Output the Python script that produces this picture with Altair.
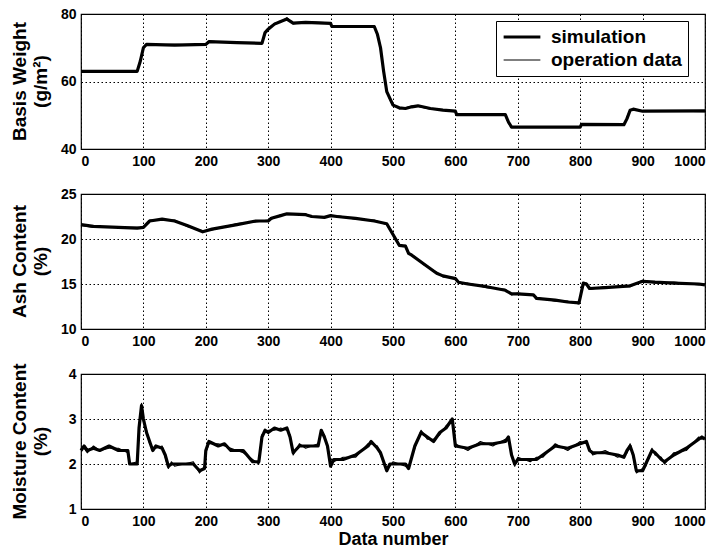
import altair as alt
import pandas as pd

# ---- Basis weight (g/m^2) ----
bw_x = [0, 90, 95, 100, 105, 150, 200, 205, 250, 290, 295, 300, 310, 320, 330,
        340, 360, 400, 402, 470, 475, 480, 485, 490, 495, 500, 510, 520, 530,
        540, 560, 580, 600, 602, 680, 685, 690, 800, 802, 870, 875, 880, 885,
        900, 1000]
bw_sim = [63, 63, 66, 70, 71, 70.8, 71, 71.8, 71.5, 71.3, 74.5, 75.5, 77, 77.8,
          78.5, 77.3, 77.5, 77.2, 76.3, 76.3, 74, 70, 63, 57, 55, 53, 52.2, 52,
          52.5, 52.8, 52, 51.5, 51.2, 50.2, 50.2, 48, 46.5, 46.5, 47.3, 47.2,
          49, 51.5, 51.8, 51.2, 51.3]
bw_op = [63.2, 62.9, 66.4, 70.3, 70.8, 71.0, 70.7, 72.0, 71.4, 71.5, 74.2, 75.8,
         77.2, 77.6, 78.9, 77.1, 77.7, 77.4, 76.1, 76.5, 73.6, 70.4, 62.6, 57.4,
         54.6, 53.3, 51.9, 52.2, 52.7, 52.6, 51.8, 51.7, 51.0, 50.4, 50.0, 47.6,
         46.7, 46.4, 47.5, 47.0, 49.4, 51.7, 51.6, 51.4, 51.1]

# ---- Ash content (%) ----
ash_x = [0, 20, 90, 100, 110, 130, 150, 170, 195, 210, 250, 280, 300, 305, 320,
         330, 360, 370, 390, 400, 410, 440, 470, 490, 500, 510, 520, 525, 530,
         550, 570, 580, 600, 605, 620, 650, 680, 690, 700, 725, 730, 760, 780,
         798, 800, 805, 810, 815, 840, 880, 900, 920, 950, 990, 1000]
ash_sim = [21.6, 21.4, 21.2, 21.3, 22.0, 22.2, 22.0, 21.5, 20.8, 21.1, 21.6,
           22.0, 22.0, 22.3, 22.6, 22.8, 22.7, 22.5, 22.4, 22.6, 22.5, 22.3,
           22.0, 21.7, 20.5, 19.3, 19.2, 18.4, 18.2, 17.2, 16.2, 15.9, 15.6,
           15.2, 15.0, 14.7, 14.3, 13.9, 13.9, 13.8, 13.4, 13.2, 13.0, 12.9,
           13.5, 15.1, 15.0, 14.5, 14.6, 14.8, 15.3, 15.2, 15.1, 15.0, 14.9]
ash_op = [21.5, 21.3, 21.3, 21.2, 22.1, 22.1, 22.1, 21.4, 20.9, 21.0, 21.7,
          21.9, 22.1, 22.2, 22.7, 22.7, 22.8, 22.4, 22.5, 22.5, 22.6, 22.2,
          22.1, 21.6, 20.6, 19.2, 19.3, 18.3, 18.3, 17.1, 16.3, 15.8, 15.7,
          15.1, 15.1, 14.6, 14.4, 13.8, 14.0, 13.7, 13.5, 13.1, 13.1, 12.8,
          13.6, 15.0, 15.1, 14.4, 14.7, 14.7, 15.4, 15.1, 15.2, 14.9, 15.0]

# ---- Moisture content (%) ----
mc_x = [0, 5, 10, 20, 30, 45, 60, 75, 78, 90, 93, 97, 100, 105, 110, 115, 120,
        130, 135, 140, 145, 150, 180, 190, 198, 200, 205, 220, 230, 240, 260,
        275, 285, 290, 295, 300, 310, 320, 330, 335, 340, 350, 360, 380, 385,
        390, 395, 400, 405, 420, 440, 460, 465, 475, 480, 490, 495, 500, 520,
        525, 535, 545, 555, 565, 575, 585, 595, 600, 620, 640, 660, 680, 685,
        690, 695, 700, 720, 730, 740, 760, 780, 800, 810, 815, 820, 840, 860,
        870, 875, 880, 885, 890, 900, 905, 915, 920, 930, 935, 950, 970, 990,
        995, 1000]
mc_sim = [2.3, 2.4, 2.3, 2.35, 2.3, 2.4, 2.3, 2.3, 2.0, 2.0, 2.8, 3.3, 3.0, 2.7,
          2.5, 2.3, 2.4, 2.35, 2.2, 1.95, 2.0, 2.0, 2.0, 1.85, 1.9, 2.3, 2.5,
          2.4, 2.45, 2.3, 2.3, 2.05, 2.05, 2.6, 2.75, 2.7, 2.8, 2.75, 2.8, 2.6,
          2.25, 2.4, 2.4, 2.4, 2.75, 2.6, 2.4, 1.95, 2.1, 2.1, 2.2, 2.4, 2.5,
          2.35, 2.25, 1.85, 2.0, 2.0, 2.0, 1.9, 2.4, 2.7, 2.6, 2.5, 2.7, 2.8,
          3.0, 2.4, 2.35, 2.45, 2.45, 2.5, 2.6, 2.2, 2.0, 2.1, 2.1, 2.1, 2.2,
          2.4, 2.35, 2.45, 2.5, 2.3, 2.25, 2.25, 2.2, 2.15, 2.3, 2.4, 2.2, 1.85,
          1.85, 2.0, 2.3, 2.25, 2.1, 2.05, 2.2, 2.35, 2.55, 2.6, 2.55]
mc_op = [2.35, 2.35, 2.25, 2.4, 2.3, 2.35, 2.35, 2.25, 2.0, 2.05, 2.75, 3.35,
         2.95, 2.75, 2.45, 2.35, 2.35, 2.4, 2.15, 1.9, 2.05, 1.95, 2.05, 1.8,
         1.95, 2.25, 2.45, 2.45, 2.4, 2.35, 2.25, 2.1, 2.0, 2.65, 2.7, 2.75,
         2.75, 2.8, 2.75, 2.65, 2.2, 2.45, 2.35, 2.45, 2.7, 2.65, 2.35, 2.0,
         2.05, 2.15, 2.15, 2.45, 2.45, 2.4, 2.2, 1.9, 1.95, 2.05, 1.95, 1.95,
         2.35, 2.75, 2.55, 2.55, 2.65, 2.85, 2.95, 2.45, 2.3, 2.5, 2.4, 2.55,
         2.55, 2.25, 1.95, 2.15, 2.05, 2.15, 2.15, 2.45, 2.3, 2.5, 2.45, 2.35,
         2.2, 2.3, 2.15, 2.2, 2.25, 2.45, 2.15, 1.8, 1.9, 1.95, 2.35, 2.2, 2.15,
         2.0, 2.25, 2.3, 2.6, 2.55, 2.6]

x_ticks = list(range(0, 1001, 100))
series_names = ["simulation", "operation data"]

FONT = "Liberation Sans"


def frame(x, sim, op):
    return pd.DataFrame({
        "n": x + x,
        "v": sim + op,
        "series": [series_names[0]] * len(x) + [series_names[1]] * len(x),
    })


def panel(df, y_dom, y_ticks, title_lines, x_title=None, legend=False):
    x_axis = alt.Axis(values=x_ticks, format="d", grid=True, ticks=False,
                      labelPadding=5, title=x_title, domain=False)
    width_scale = alt.Scale(domain=series_names, range=[3.2, 1.2])
    if legend:
        sw = alt.StrokeWidth(
            "series:N", scale=width_scale, sort=series_names,
            legend=alt.Legend(title=None, orient="none", legendX=415,
                              legendY=7, symbolType="stroke",
                              symbolStrokeColor="black", symbolSize=1350,
                              labelFontSize=19, labelFont=FONT,
                              labelFontWeight="bold", fillColor="white",
                              strokeColor="black", padding=6,
                              clipHeight=20, rowPadding=3, labelOffset=9))
    else:
        sw = alt.StrokeWidth("series:N", scale=width_scale, legend=None)
    return alt.Chart(df).mark_line(color="black", strokeJoin="round").encode(
        x=alt.X("n:Q", scale=alt.Scale(domain=[0, 1000], nice=False),
                axis=x_axis),
        y=alt.Y("v:Q", scale=alt.Scale(domain=y_dom, nice=False),
                axis=alt.Axis(values=y_ticks, grid=True, ticks=False,
                              labelPadding=5, domain=False,
                              title=title_lines, titleAngle=-90,
                              titleX=-62, titleY=67, titleAlign="center",
                              titleBaseline="middle", titleLineHeight=21)),
        strokeWidth=sw,
        detail="series:N",
        order=alt.Order("series:N", sort="ascending"),
    ).properties(width=624, height=135)


p1 = panel(frame(bw_x, bw_sim, bw_op), [40, 80], [40, 60, 80],
           ["Basis Weight", "(g/m²)"], legend=True)
p2 = panel(frame(ash_x, ash_sim, ash_op), [10, 25], [10, 15, 20, 25],
           ["Ash Content", "(%)"])
p3 = panel(frame(mc_x, mc_sim, mc_op), [1, 4], [1, 2, 3, 4],
           ["Moisture Content", "(%)"], x_title="Data number")

chart = alt.vconcat(p1, p2, p3, spacing=45, bounds="flush").configure(
    padding={"left": 9, "top": 6, "right": 18, "bottom": 2},
    font=FONT,
).configure_view(
    stroke="black", strokeWidth=1.2,
).configure_axis(
    labelFont=FONT, labelFontSize=14, labelFontWeight="bold",
    labelColor="black", titleFont=FONT, titleFontSize=19,
    titleFontWeight="bold", titleColor="black",
    gridColor="black", gridDash=[1.5, 2.5], gridWidth=1, gridOpacity=1,
).configure_axisX(
    titlePadding=2, titleFontSize=18,
)

chart.save("out.html", embed_options={"renderer": "svg", "actions": False})
